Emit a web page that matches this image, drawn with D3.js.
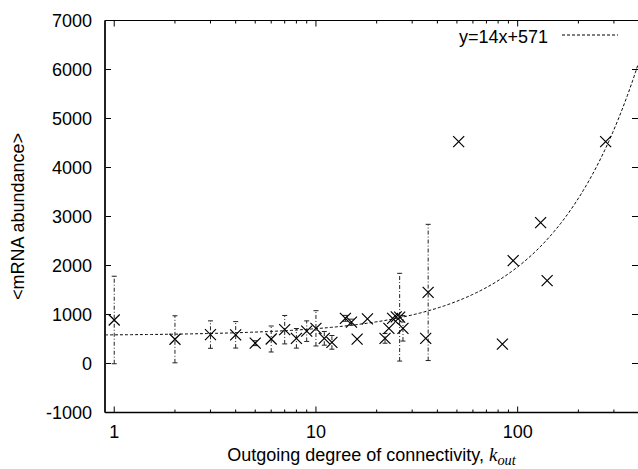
<!DOCTYPE html>
<html><head><meta charset="utf-8">
<script src="https://cdn.jsdelivr.net/npm/d3@7"></script>
<style>
body{margin:0;background:#fff;}
text{font-family:"Liberation Sans",Arial,Helvetica,sans-serif;}
</style></head>
<body><svg id="c" width="638" height="469"></svg>
<script>
const kOut   = [1,2,3,4,5,6,7,8,9,10,11,12,14,15,16,18,22,23,24,25,26,27,35,36,51,84,95,130,140,273];
const mrna   = [888,494,590,585,415,500,690,514,660,718,514,432,922,845,497,912,514,718,922,950,945,718,514,1450,4527,395,2098,2874,1690,4527];
const errBar = [893,480,280,270,50,265,290,200,210,360,140,140,60,60,null,null,100,null,null,null,895,260,null,1390,null,null,null,null,null,null];
const fitSlope = 14, fitIntercept = 571;
const fitLabel = "y=14x+571";
const yTicks = [-1000,0,1000,2000,3000,4000,5000,6000,7000];
const xMajor = [1,10,100];
const xMinor = [2,3,4,5,6,7,8,9,20,30,40,50,60,70,80,90,200,300];
const xDomain = [0.9, 395], yDomain = [-1000, 7000];

const svg = d3.select("#c");
const L=105, R=638, T=20.5, B=412.5;
const x = d3.scaleLog().domain(xDomain).range([L,R]);
const y = d3.scaleLinear().domain(yDomain).range([B,T]);
const fs = 18;

// ticks
const g = svg.append("g").attr("stroke","#000").attr("stroke-width",1);
yTicks.forEach(v=>{
  g.append("line").attr("x1",L).attr("x2",L+6).attr("y1",y(v)).attr("y2",y(v));
  g.append("line").attr("x1",R).attr("x2",R-6).attr("y1",y(v)).attr("y2",y(v));
});
xMajor.forEach(v=>{
  g.append("line").attr("x1",x(v)).attr("x2",x(v)).attr("y1",B).attr("y2",B-6);
  g.append("line").attr("x1",x(v)).attr("x2",x(v)).attr("y1",T).attr("y2",T+6);
});
xMinor.forEach(v=>{
  g.append("line").attr("x1",x(v)).attr("x2",x(v)).attr("y1",B).attr("y2",B-3);
  g.append("line").attr("x1",x(v)).attr("x2",x(v)).attr("y1",T).attr("y2",T+3);
});

// tick labels
svg.append("g").selectAll("text").data(yTicks).join("text")
  .attr("x",92).attr("y",d=>y(d)).attr("dy","0.36em").attr("text-anchor","end")
  .attr("font-size",fs).attr("fill","#000").text(d=>d);
svg.append("g").selectAll("text").data(xMajor).join("text")
  .attr("x",d=>x(d)).attr("y",438).attr("text-anchor","middle")
  .attr("font-size",fs).attr("fill","#000").text(d=>d);

// titles
svg.append("text").attr("transform",`translate(24,${(T+B)/2}) rotate(-90)`)
  .attr("text-anchor","middle").attr("font-size",fs).text("<mRNA abundance>");
const xt = svg.append("text").attr("x",(L+R)/2).attr("y",461).attr("text-anchor","middle").attr("font-size",fs);
xt.append("tspan").text("Outgoing degree of connectivity, ");
xt.append("tspan").attr("font-family","'Liberation Serif','Times New Roman',serif").attr("font-style","italic")
  .attr("font-size",fs*1.05).text("k");
xt.append("tspan").attr("font-family","'Liberation Serif','Times New Roman',serif").attr("font-style","italic")
  .attr("font-size",fs*0.8).attr("dy",4).text("out");

// clip
svg.append("clipPath").attr("id","clip").append("rect").attr("x",L).attr("y",T).attr("width",R-L).attr("height",B-T);

// fit curve
const fitX = d3.range(0, 401).map(i=> xDomain[0]*Math.pow(xDomain[1]/xDomain[0], i/400));
const line = d3.line().x(d=>x(d)).y(d=>y(fitSlope*d+fitIntercept));
svg.append("path").datum(fitX).attr("d",line).attr("clip-path","url(#clip)")
  .attr("fill","none").attr("stroke","#000").attr("stroke-width",1).attr("stroke-dasharray","3,2");

// error bars
const data = kOut.map((k,i)=>({k, v:mrna[i], e:errBar[i]}));
const eb = svg.append("g").attr("stroke","#222").attr("stroke-width",1);
data.filter(d=>d.e!=null).forEach(d=>{
  eb.append("line").attr("x1",x(d.k)).attr("x2",x(d.k)).attr("y1",y(d.v-d.e)).attr("y2",y(d.v+d.e))
    .attr("stroke-dasharray","4,2,1,2");
  [d.v-d.e, d.v+d.e].forEach(c=>{
    eb.append("line").attr("x1",x(d.k)-2.5).attr("x2",x(d.k)+2.5).attr("y1",y(c)).attr("y2",y(c));
  });
});

// markers
const s = 5.5;
svg.append("g").selectAll("path").data(data).join("path")
  .attr("d",d=>{const cx=x(d.k), cy=y(d.v);
    return `M${cx-s},${cy-s}L${cx+s},${cy+s}M${cx-s},${cy+s}L${cx+s},${cy-s}`;})
  .attr("stroke","#000").attr("stroke-width",1.2).attr("fill","none");

// legend
svg.append("text").attr("x",548).attr("y",43).attr("text-anchor","end").attr("font-size",fs).text(fitLabel);
svg.append("line").attr("x1",562).attr("x2",618).attr("y1",35).attr("y2",35)
  .attr("stroke","#000").attr("stroke-width",1).attr("stroke-dasharray","3,2");

// border
svg.append("path").attr("d",`M${L},${B}L${L},${T}L${R},${T}`).attr("fill","none").attr("stroke","#000").attr("stroke-width",1);
svg.append("line").attr("x1",L).attr("x2",R).attr("y1",B).attr("y2",B).attr("stroke","#000").attr("stroke-width",1.5);
svg.append("line").attr("x1",L).attr("x2",L).attr("y1",T).attr("y2",B).attr("stroke","#222").attr("stroke-width",2);
</script></body></html>
